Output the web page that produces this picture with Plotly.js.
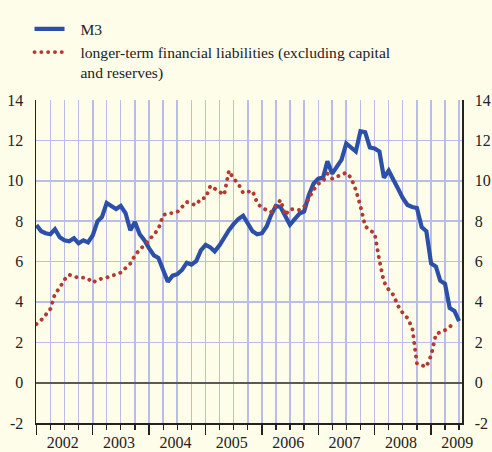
<!DOCTYPE html>
<html>
<head>
<meta charset="utf-8">
<script src="https://cdn.plot.ly/plotly-3.0.1.min.js"></script>
<style>
  html, body { margin: 0; padding: 0; background: #FEFDEA; }
  #chart { width: 492px; height: 452px; }
</style>
</head>
<body>
<div id="chart"></div>
<script>
// ---- data (annual % changes, monthly, Jan 2002 onwards) ----
const startYear = 2002;
const yearLabels = ['2002', '2003', '2004', '2005', '2006', '2007', '2008', '2009'];

const m3 = [
  7.8, 7.5, 7.4, 7.35, 7.6, 7.2, 7.05, 7.0, 7.15, 6.9, 7.05, 6.95,      // 2002
  7.3, 8.0, 8.2, 8.9, 8.75, 8.6, 8.75, 8.4, 7.55, 7.95, 7.35, 7.05,     // 2003
  6.65, 6.3, 6.18, 5.5, 5.0, 5.3, 5.37, 5.58, 5.94, 5.85, 6.02, 6.55,   // 2004
  6.82, 6.7, 6.5, 6.8, 7.2, 7.55, 7.85, 8.1, 8.27, 7.86, 7.5, 7.35,     // 2005
  7.4, 7.75, 8.3, 8.75, 8.7, 8.25, 7.82, 8.1, 8.37, 8.48, 9.3, 9.85,    // 2006
  10.1, 10.16, 10.96, 10.35, 10.7, 11.05, 11.85, 11.65, 11.45, 12.45, 12.4, 11.65, // 2007
  11.6, 11.45, 10.15, 10.5, 10.1, 9.6, 9.15, 8.8, 8.7, 8.65, 7.7, 7.5,  // 2008
  5.9, 5.75, 5.05, 4.9, 3.7, 3.55, 3.05                                 // 2009
];

const ltfl = [
  2.9, 3.1, 3.35, 3.65, 4.4, 4.7, 5.1, 5.35, 5.25, 5.2, 5.2, 5.15,      // 2002
  4.95, 5.1, 5.15, 5.2, 5.3, 5.35, 5.45, 5.65, 5.9, 6.3, 6.6, 6.8,      // 2003
  7.05, 7.3, 7.6, 8.3, 8.38, 8.4, 8.45, 8.7, 8.95, 8.85, 8.8, 9.12,     // 2004
  9.15, 9.75, 9.6, 9.45, 9.3, 10.5, 10.1, 9.85, 9.4, 9.45, 9.5, 8.9,    // 2005
  8.65, 8.55, 8.45, 8.75, 9.05, 8.3, 8.6, 8.58, 8.55, 8.7, 9.1, 9.55,   // 2006
  9.85, 9.97, 10.35, 10.1, 10.2, 10.3, 10.4, 10.15, 9.55, 8.75, 7.75, 7.55, // 2007
  7.4, 6.05, 5.0, 4.6, 4.35, 3.8, 3.45, 3.2, 2.7, 0.95, 0.88, 0.78,     // 2008
  1.35, 2.4, 2.5, 2.6, 2.75, 3.0                                        // 2009
];

const yTicks = [-2, 0, 2, 4, 6, 8, 10, 12, 14];
const yTickText = ['-2', '0', '2', '4', '6', '8', '10', '12', '14'];
const NB = '\u00A0\u00A0\u2009';
const seriesNames = [NB + 'M3', NB + 'longer-term financial liabilities (excluding capital<br>' + NB + 'and reserves)'];

// ---- helpers ----
function monthDates(n) {
  const out = [];
  for (let i = 0; i < n; i++) {
    const y = startYear + Math.floor(i / 12);
    const m = (i % 12) + 1;
    out.push(y + '-' + String(m).padStart(2, '0') + '-01');
  }
  return out;
}
const quarterTicks = [];
const yearTicks = [];
const yearMid = [];
yearLabels.forEach(function (yl) {
  ['01', '04', '07', '10'].forEach(function (mm) { quarterTicks.push(yl + '-' + mm + '-01'); });
  yearTicks.push(yl + '-01-01');
  yearMid.push(yl + '-06-20');
});

const xRange = ['2001-12-29', '2009-07-20'];
const font = 'Liberation Serif';
const gridCol = '#B9BDE8';
const txtCol = '#222222';

const traces = [
  {
    x: monthDates(m3.length), y: m3, name: seriesNames[0],
    type: 'scatter', mode: 'lines',
    line: { color: '#2C4FA8', width: 4.2 }
  },
  {
    x: monthDates(ltfl.length), y: ltfl, name: seriesNames[1],
    type: 'scatter', mode: 'lines',
    line: { color: '#B23A30', width: 3.9, dash: '0.1px,6.7px' }
  },
  // empty traces so the overlaid axes get drawn
  { x: [], y: [], xaxis: 'x2', yaxis: 'y', type: 'scatter', mode: 'lines', showlegend: false, hoverinfo: 'skip' },
  { x: [], y: [], xaxis: 'x3', yaxis: 'y', type: 'scatter', mode: 'lines', showlegend: false, hoverinfo: 'skip' },
  { x: [], y: [], xaxis: 'x', yaxis: 'y2', type: 'scatter', mode: 'lines', showlegend: false, hoverinfo: 'skip' }
];

const layout = {
  width: 492, height: 452,
  margin: { l: 36, r: 30, t: 100, b: 29, pad: 0, autoexpand: false },
  paper_bgcolor: '#FEFDEA',
  plot_bgcolor: '#FEFDEA',
  font: { family: font, size: 16, color: txtCol },
  showlegend: true,
  legend: {
    xref: 'container', yref: 'container',
    x: 0.060, y: 0.973, xanchor: 'left', yanchor: 'top',
    bgcolor: 'rgba(0,0,0,0)', borderwidth: 0,
    font: { family: font, size: 15.6, color: txtCol },
    valign: 'top', tracegroupgap: 0
  },
  xaxis: {
    type: 'date', range: xRange,
    tickmode: 'array', tickvals: quarterTicks,
    ticks: 'outside', ticklen: 5, tickwidth: 1.3, tickcolor: txtCol,
    showticklabels: false,
    showgrid: true, gridcolor: gridCol, gridwidth: 1.5,
    showline: true, linecolor: txtCol, linewidth: 1.5,
    zeroline: false, fixedrange: true
  },
  xaxis2: {
    type: 'date', range: xRange, overlaying: 'x', anchor: 'y',
    tickmode: 'array', tickvals: yearTicks,
    ticks: 'outside', ticklen: 11, tickwidth: 1.3, tickcolor: txtCol,
    showticklabels: false, showgrid: false, showline: false, zeroline: false
  },
  xaxis3: {
    type: 'date', range: xRange, overlaying: 'x', anchor: 'y',
    tickmode: 'array', tickvals: yearMid, ticktext: yearLabels,
    ticks: '', ticklabelstandoff: 8,
    tickfont: { family: font, size: 16, color: txtCol },
    showgrid: false, showline: false, zeroline: false
  },
  yaxis: {
    range: [-2, 14], tickmode: 'array', tickvals: yTicks, ticktext: yTickText,
    ticks: '', ticklabelstandoff: 8,
    tickfont: { family: font, size: 16, color: txtCol },
    showgrid: true, gridcolor: gridCol, gridwidth: 1.5,
    zeroline: true, zerolinecolor: '#5A5A5A', zerolinewidth: 2,
    showline: true, linecolor: txtCol, linewidth: 1.5, fixedrange: true
  },
  yaxis2: {
    range: [-2, 14], overlaying: 'y', side: 'right', anchor: 'x',
    tickmode: 'array', tickvals: yTicks, ticktext: yTickText,
    ticks: '', ticklabelstandoff: 8,
    tickfont: { family: font, size: 16, color: txtCol },
    showgrid: false, zeroline: false,
    showline: true, linecolor: txtCol, linewidth: 1.5
  }
};

Plotly.newPlot('chart', traces, layout, { staticPlot: true, displayModeBar: false }).then(function (gd) {
  // round dots for the dotted series (plot and legend sample)
  const tr = gd.querySelectorAll('.scatterlayer .trace');
  if (tr[1]) tr[1].querySelectorAll('path.js-line').forEach(function (p) { p.style.strokeLinecap = 'round'; });
  const lg = gd.querySelectorAll('.legend .traces');
  if (lg[1]) lg[1].querySelectorAll('path.js-line').forEach(function (p) { p.style.strokeLinecap = 'round'; });
});
</script>
</body>
</html>
